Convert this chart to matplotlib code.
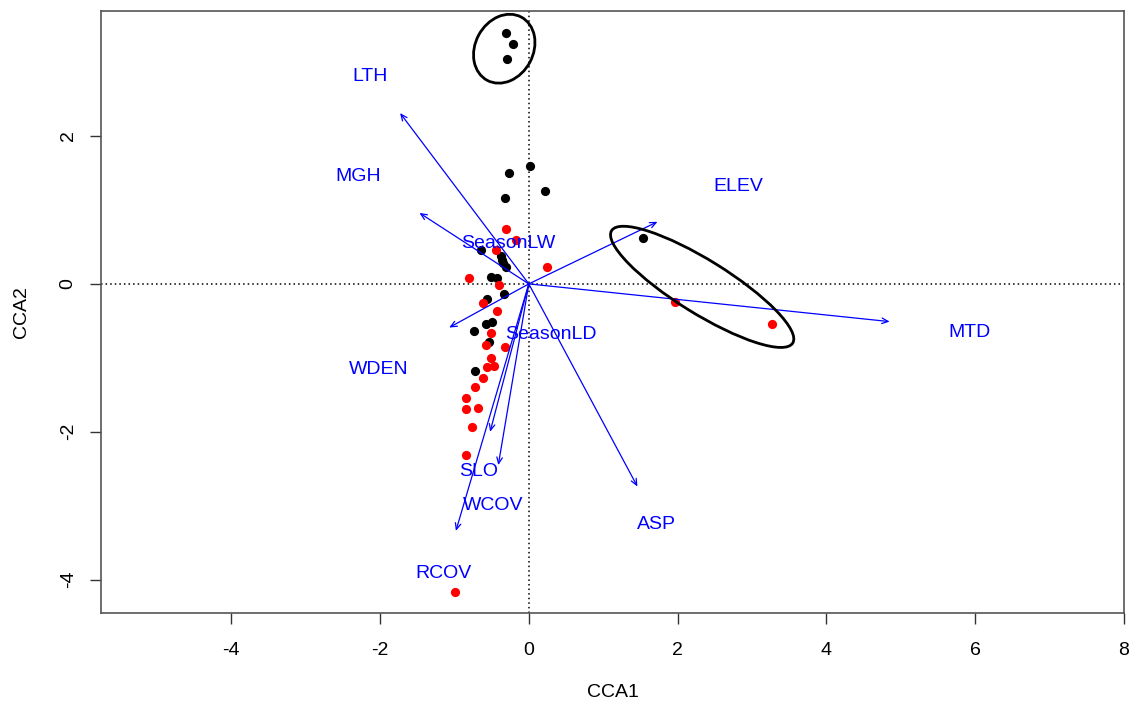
import matplotlib
matplotlib.use("Agg")
import matplotlib.pyplot as plt
from matplotlib.patches import Ellipse

plt.rcParams['font.family'] = ['Liberation Sans', 'DejaVu Sans']

# Site scores (black group)
black_x = [-0.30, -0.21, -0.29, 0.02, -0.26, 0.22, -0.32, 1.54, -0.64, -0.37, -0.36,
           -0.35, -0.30, -0.51, -0.43, -0.33, -0.56, -0.58, -0.49, -0.74, -0.53, -0.72]
black_y = [3.39, 3.24, 3.04, 1.59, 1.50, 1.26, 1.16, 0.62, 0.46, 0.38, 0.32,
           0.28, 0.23, 0.09, 0.08, -0.13, -0.21, -0.54, -0.52, -0.64, -0.79, -1.18]

# Site scores (red group)
red_x = [-0.30, -0.17, -0.44, 0.24, -0.80, -0.40, -0.61, -0.43, -0.51, -0.58, -0.32, -0.51,
         -0.56, -0.47, -0.62, -0.72, -0.84, -0.84, -0.68, -0.76, -0.84, 1.97, 3.27, -0.99]
red_y = [0.74, 0.60, 0.46, 0.23, 0.08, -0.01, -0.26, -0.37, -0.66, -0.82, -0.85, -1.00,
         -1.13, -1.11, -1.27, -1.40, -1.54, -1.69, -1.68, -1.94, -2.31, -0.24, -0.54, -4.16]

# Environmental biplot arrows
env_names = ['LTH', 'MGH', 'ELEV', 'MTD', 'WDEN', 'ASP', 'SLO', 'WCOV', 'RCOV']
env_x = [-1.73, -1.47, 1.73, 4.85, -1.07, 1.46, -0.52, -0.41, -0.98]
env_y = [2.31, 0.96, 0.84, -0.51, -0.59, -2.74, -2.00, -2.45, -3.34]
env_lab_x = [-2.13, -2.29, 2.81, 5.93, -2.02, 1.71, -0.67, -0.48, -1.15]
env_lab_y = [2.81, 1.45, 1.32, -0.66, -1.16, -3.26, -2.53, -2.99, -3.91]

# Factor centroids
cent_names = ['SeasonLW', 'SeasonLD']
cent_x = [-0.28, 0.30]
cent_y = [0.54, -0.68]

# Ellipses (center x, center y, width, height, angle)
ell_cx = [-0.33, 2.33]
ell_cy = [3.18, -0.04]
ell_w = [0.97, 2.87]
ell_h = [0.78, 0.72]
ell_ang = [62, -32]

xticks = [-4, -2, 0, 2, 4, 6, 8]
yticks = [-4, -2, 0, 2]

FS = 14

fig = plt.figure(figsize=(11.32, 7.08), dpi=100)
ax = fig.add_axes([101/1132, 95/708, (1124-101)/1132, (613-11)/708])
ax.set_xlim(-5.75, 8.0)
ax.set_ylim(-4.45, 3.69)

ax.axhline(0, color='black', ls=(0, (1, 2)), lw=1.1, zorder=1)
ax.axvline(0, color='black', ls=(0, (1, 2)), lw=1.1, zorder=1)

ax.scatter(black_x, black_y, s=44, color='black', zorder=3, linewidths=0)
ax.scatter(red_x, red_y, s=44, color='red', zorder=3, linewidths=0)

for x, y in zip(env_x, env_y):
    ax.annotate('', xy=(x, y), xytext=(0, 0),
                arrowprops=dict(arrowstyle='->,head_length=0.45,head_width=0.2',
                                color='blue', lw=0.9, shrinkA=0, shrinkB=0),
                zorder=4)
for name, x, y in zip(env_names, env_lab_x, env_lab_y):
    ax.text(x, y, name, color='blue', fontsize=FS, ha='center', va='center', zorder=5)
for name, x, y in zip(cent_names, cent_x, cent_y):
    ax.text(x, y, name, color='blue', fontsize=FS, ha='center', va='center', zorder=5)

for cx, cy, w, h, a in zip(ell_cx, ell_cy, ell_w, ell_h, ell_ang):
    ax.add_patch(Ellipse((cx, cy), w, h, angle=a, fill=False, edgecolor='black', lw=2, zorder=4))

ax.set_xticks(xticks)
ax.set_yticks(yticks)
ax.set_xticklabels([str(t) for t in xticks], fontsize=FS)
ax.set_yticklabels([str(t) for t in yticks], fontsize=FS, rotation=90, va='center')
ax.tick_params(direction='out', length=8, width=1, color='#333333')
ax.tick_params(axis='x', pad=13)
ax.tick_params(axis='y', pad=9.5)
for s in ax.spines.values():
    s.set_color('#555555')
    s.set_linewidth(1.2)
ax.set_xlabel('CCA1', fontsize=FS, labelpad=18)
ax.set_ylabel('CCA2', fontsize=FS, labelpad=21.5)

fig.savefig('out.png', dpi=100)
